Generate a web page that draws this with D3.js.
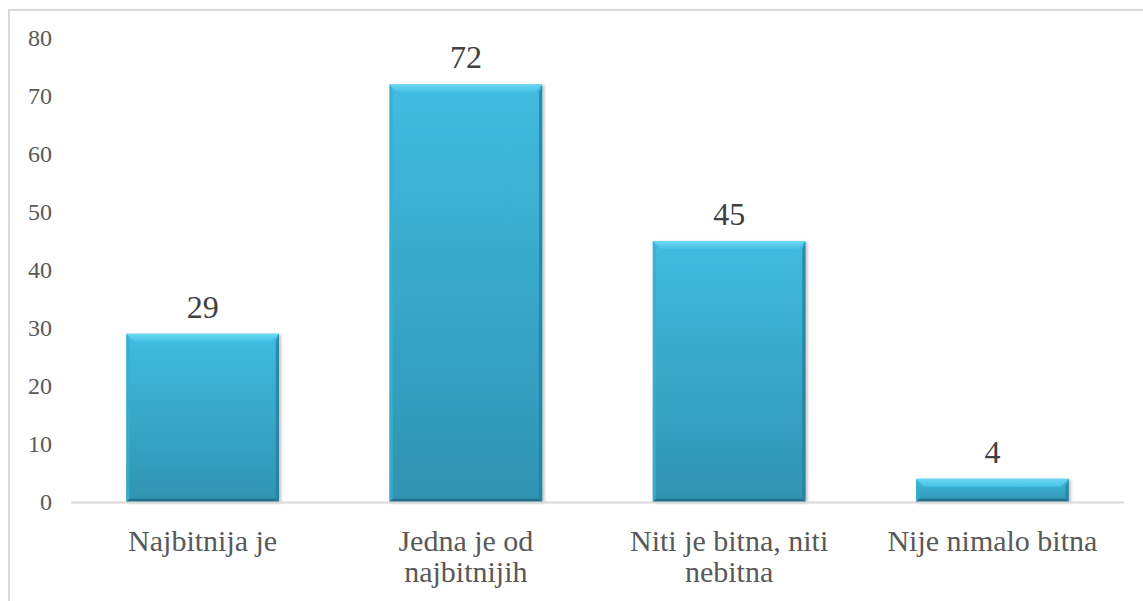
<!DOCTYPE html>
<html>
<head>
<meta charset="utf-8">
<script src="https://cdn.jsdelivr.net/npm/d3@7"></script>
<style>
  body { margin: 0; background: #fff; }
</style>
</head>
<body>
<svg id="chart"></svg>
<script>
const categories = [['Najbitnija je'], ['Jedna je od', 'najbitnijih'], ['Niti je bitna, niti', 'nebitna'], ['Nije nimalo bitna']];
const values = [29, 72, 45, 4];
const yTicks = [0, 10, 20, 30, 40, 50, 60, 70, 80];

const W = 1143, H = 601;
const plot = { left: 71, right: 1124, top: 38, bottom: 502 };
const serif = '"Liberation Serif", "Times New Roman", serif';

const svg = d3.select('#chart').attr('width', W).attr('height', H);

// chart border (runs past the right/bottom edges like the cropped original)
svg.append('rect')
  .attr('x', 9).attr('y', 10)
  .attr('width', 1160).attr('height', 620)
  .attr('fill', 'none')
  .attr('stroke', '#d9d9d9')
  .attr('stroke-width', 2);

const x = d3.scaleBand()
  .domain(d3.range(values.length))
  .range([plot.left, plot.right])
  .paddingInner(0.42)
  .paddingOuter(0.21);

const y = d3.scaleLinear()
  .domain([0, 80])
  .range([plot.bottom, plot.top]);

// gradients for bars
const defs = svg.append('defs');
const g1 = defs.append('linearGradient').attr('id', 'barFill')
  .attr('x1', 0).attr('y1', 0).attr('x2', 0).attr('y2', 1);
g1.append('stop').attr('offset', '0%').attr('stop-color', '#40bce0');
g1.append('stop').attr('offset', '100%').attr('stop-color', '#2f93b1');

const g2 = defs.append('linearGradient').attr('id', 'topFill')
  .attr('x1', 0).attr('y1', 0).attr('x2', 0).attr('y2', 1);
g2.append('stop').attr('offset', '0%').attr('stop-color', '#6ad8f4');
g2.append('stop').attr('offset', '100%').attr('stop-color', '#45c0e3');

const shadow = defs.append('filter').attr('id', 'shadow')
  .attr('x', '-10%').attr('y', '-10%').attr('width', '130%').attr('height', '130%');
shadow.append('feDropShadow').attr('dx', 2).attr('dy', 1).attr('stdDeviation', 1.5)
  .attr('flood-color', '#000').attr('flood-opacity', 0.25);

// y axis labels (no line)
svg.append('g')
  .selectAll('text')
  .data(yTicks)
  .join('text')
  .attr('x', 52)
  .attr('y', d => y(d))
  .attr('dy', '0.35em')
  .attr('text-anchor', 'end')
  .style('font-family', serif)
  .style('font-size', '24px')
  .style('fill', '#595959')
  .text(d => d);

// bars
const bars = svg.append('g')
  .selectAll('g')
  .data(values)
  .join('g');

bars.append('rect')
  .attr('x', (d, i) => x(i))
  .attr('y', d => y(d))
  .attr('width', x.bandwidth())
  .attr('height', d => y(0) - y(d))
  .attr('fill', 'url(#barFill)')
  .attr('filter', 'url(#shadow)');

// bevel edges
const bev = 8;
bars.append('path') // top highlight
  .attr('d', (d, i) => {
    const x0 = x(i), x1 = x(i) + x.bandwidth(), t = y(d);
    const b = Math.min(bev, (y(0) - y(d)) / 2);
    return `M${x0},${t}L${x1},${t}L${x1 - b},${t + b}L${x0 + b},${t + b}Z`;
  })
  .attr('fill', 'url(#topFill)');
bars.append('path') // left edge
  .attr('d', (d, i) => {
    const x0 = x(i), t = y(d), bt = y(0);
    const b = Math.min(bev, (bt - t) / 2);
    return `M${x0},${t}L${x0 + b * 0.4},${t + b}L${x0 + b * 0.4},${bt - b * 0.4}L${x0},${bt}Z`;
  })
  .attr('fill', '#3aaed2')
  .attr('opacity', 0.8);
bars.append('path') // right edge
  .attr('d', (d, i) => {
    const x1 = x(i) + x.bandwidth(), t = y(d), bt = y(0);
    const b = Math.min(bev, (bt - t) / 2);
    return `M${x1},${t}L${x1 - b * 0.4},${t + b}L${x1 - b * 0.4},${bt - b * 0.4}L${x1},${bt}Z`;
  })
  .attr('fill', '#27809c')
  .attr('opacity', 0.8);
bars.append('path') // bottom edge
  .attr('d', (d, i) => {
    const x0 = x(i), x1 = x(i) + x.bandwidth(), bt = y(0);
    const b = Math.min(bev * 0.4, (bt - y(d)) / 4);
    return `M${x0},${bt}L${x1},${bt}L${x1 - b},${bt - b}L${x0 + b},${bt - b}Z`;
  })
  .attr('fill', '#22708a');

// baseline
svg.append('line')
  .attr('x1', plot.left).attr('x2', plot.right)
  .attr('y1', y(0) + 0.5).attr('y2', y(0) + 0.5)
  .attr('stroke', '#d9d9d9')
  .attr('stroke-width', 2);

// data labels
svg.append('g')
  .selectAll('text')
  .data(values)
  .join('text')
  .attr('x', (d, i) => x(i) + x.bandwidth() / 2)
  .attr('y', d => y(d) - 16)
  .attr('text-anchor', 'middle')
  .style('font-family', serif)
  .style('font-size', '32px')
  .style('fill', '#404040')
  .text(d => d);

// category labels
const cat = svg.append('g')
  .selectAll('text')
  .data(categories)
  .join('text')
  .attr('x', (d, i) => x(i) + x.bandwidth() / 2)
  .attr('y', 551)
  .attr('text-anchor', 'middle')
  .style('font-family', serif)
  .style('font-size', '30px')
  .style('fill', '#595959');
cat.selectAll('tspan')
  .data(d => d)
  .join('tspan')
  .attr('x', function () { return d3.select(this.parentNode).attr('x'); })
  .attr('dy', (d, j) => j === 0 ? 0 : 31)
  .text(d => d);
</script>
</body>
</html>
